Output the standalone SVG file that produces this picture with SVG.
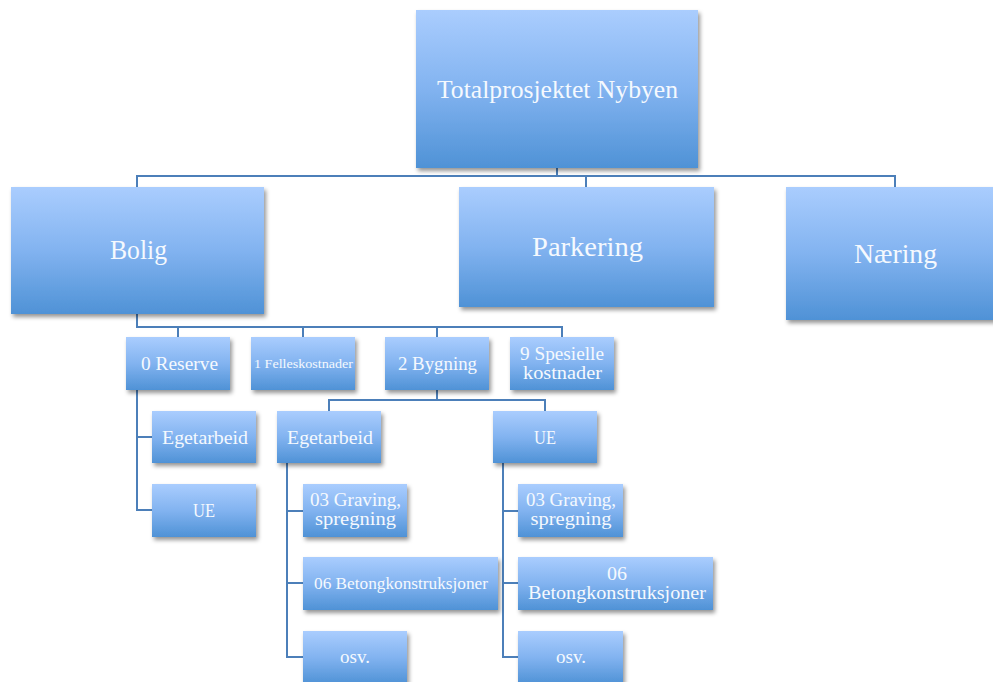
<svg xmlns="http://www.w3.org/2000/svg" width="993" height="682" viewBox="0 0 993 682">
  <defs>
    <linearGradient id="boxFill" x1="0" y1="0" x2="0" y2="1">
      <stop offset="0" stop-color="#aacdfe"/>
      <stop offset="0.5" stop-color="#82b3f0"/>
      <stop offset="1" stop-color="#4f92d6"/>
    </linearGradient>
    <filter id="shadow" x="-10%" y="-10%" width="130%" height="140%">
      <feDropShadow dx="2" dy="3" stdDeviation="2.2" flood-color="#000" flood-opacity="0.42"/>
    </filter>
  </defs>
  <style>
    .box { fill: url(#boxFill); filter: url(#shadow); }
    .lbl { fill: #f5f9fe; font-family: "Liberation Serif", "DejaVu Serif", serif; text-anchor: middle; }
    .conn { fill: none; stroke: #4c7fb9; stroke-width: 2; }
  </style>
  <rect width="993" height="682" fill="#ffffff"/>

  <g id="connectors" class="conn">
    <path d="M557,168 V176"/>
    <path d="M137,187 V176 H895 V187"/>
    <path d="M586,176 V187"/>
    <path d="M137,314 V327 H562 V337"/>
    <path d="M178,327 V337"/>
    <path d="M303,327 V337"/>
    <path d="M437,327 V337"/>
    <path d="M137,390 V510 H152"/>
    <path d="M137,437 H152"/>
    <path d="M437,390 V400"/>
    <path d="M329,411 V400 H545 V411"/>
    <path d="M287,463 V657 H303"/>
    <path d="M287,511 H303"/>
    <path d="M287,583 H303"/>
    <path d="M503,463 V657 H518"/>
    <path d="M503,511 H518"/>
    <path d="M503,583 H518"/>
  </g>

  <g id="totalprosjektet">
    <rect class="box" x="416" y="10" width="282" height="158"/>
    <text class="lbl" x="557.5" y="98" font-size="26" textLength="241" lengthAdjust="spacingAndGlyphs">Totalprosjektet Nybyen</text>
  </g>
  <g id="bolig">
    <rect class="box" x="11" y="187" width="253" height="127"/>
    <text class="lbl" x="138.5" y="259" font-size="27" textLength="57" lengthAdjust="spacingAndGlyphs">Bolig</text>
  </g>
  <g id="parkering">
    <rect class="box" x="459" y="187" width="255" height="120"/>
    <text class="lbl" x="587.5" y="256" font-size="27" textLength="111" lengthAdjust="spacingAndGlyphs">Parkering</text>
  </g>
  <g id="naering">
    <rect class="box" x="786" y="187" width="215" height="133"/>
    <text class="lbl" x="895.5" y="263" font-size="27" textLength="83" lengthAdjust="spacingAndGlyphs">Næring</text>
  </g>

  <g id="reserve">
    <rect class="box" x="126" y="337" width="104" height="53"/>
    <text class="lbl" x="179.5" y="370" font-size="19" textLength="77" lengthAdjust="spacingAndGlyphs">0 Reserve</text>
  </g>
  <g id="felleskostnader">
    <rect class="box" x="251" y="337" width="104" height="53"/>
    <text class="lbl" x="303.5" y="368" font-size="13" textLength="99" lengthAdjust="spacingAndGlyphs">1 Felleskostnader</text>
  </g>
  <g id="bygning">
    <rect class="box" x="385" y="337" width="104" height="53"/>
    <text class="lbl" x="437.5" y="370" font-size="19" textLength="79" lengthAdjust="spacingAndGlyphs">2 Bygning</text>
  </g>
  <g id="spesielle">
    <rect class="box" x="510" y="337" width="104" height="53"/>
    <text class="lbl" x="562" y="360" font-size="19" textLength="84" lengthAdjust="spacingAndGlyphs">9 Spesielle</text>
    <text class="lbl" x="562.5" y="379" font-size="19" textLength="79" lengthAdjust="spacingAndGlyphs">kostnader</text>
  </g>

  <g id="reserve-egetarbeid">
    <rect class="box" x="152" y="411" width="104" height="52"/>
    <text class="lbl" x="205" y="444" font-size="19" textLength="86" lengthAdjust="spacingAndGlyphs">Egetarbeid</text>
  </g>
  <g id="reserve-ue">
    <rect class="box" x="152" y="484" width="104" height="53"/>
    <text class="lbl" x="204" y="517" font-size="19" textLength="22" lengthAdjust="spacingAndGlyphs">UE</text>
  </g>

  <g id="bygning-egetarbeid">
    <rect class="box" x="277" y="411" width="104" height="52"/>
    <text class="lbl" x="330" y="444" font-size="19" textLength="86" lengthAdjust="spacingAndGlyphs">Egetarbeid</text>
  </g>
  <g id="bygning-ue">
    <rect class="box" x="493" y="411" width="104" height="52"/>
    <text class="lbl" x="545" y="444" font-size="19" textLength="22" lengthAdjust="spacingAndGlyphs">UE</text>
  </g>

  <g id="ege-graving">
    <rect class="box" x="303" y="484" width="104" height="53"/>
    <text class="lbl" x="355.5" y="506" font-size="18" textLength="91" lengthAdjust="spacingAndGlyphs">03 Graving,</text>
    <text class="lbl" x="355.5" y="525" font-size="18" textLength="81" lengthAdjust="spacingAndGlyphs">spregning</text>
  </g>
  <g id="ege-betong">
    <rect class="box" x="303" y="557" width="195" height="53"/>
    <text class="lbl" x="401" y="589" font-size="16" textLength="174" lengthAdjust="spacingAndGlyphs">06 Betongkonstruksjoner</text>
  </g>
  <g id="ege-osv">
    <rect class="box" x="303" y="631" width="104" height="53"/>
    <text class="lbl" x="355" y="663" font-size="19" textLength="30" lengthAdjust="spacingAndGlyphs">osv.</text>
  </g>

  <g id="ue-graving">
    <rect class="box" x="518" y="484" width="105" height="53"/>
    <text class="lbl" x="571" y="506" font-size="18" textLength="90" lengthAdjust="spacingAndGlyphs">03 Graving,</text>
    <text class="lbl" x="571" y="525" font-size="18" textLength="81" lengthAdjust="spacingAndGlyphs">spregning</text>
  </g>
  <g id="ue-betong">
    <rect class="box" x="518" y="557" width="195" height="53"/>
    <text class="lbl" x="617" y="580" font-size="19" textLength="20" lengthAdjust="spacingAndGlyphs">06</text>
    <text class="lbl" x="617" y="599" font-size="19" textLength="178" lengthAdjust="spacingAndGlyphs">Betongkonstruksjoner</text>
  </g>
  <g id="ue-osv">
    <rect class="box" x="518" y="631" width="105" height="53"/>
    <text class="lbl" x="571" y="663" font-size="19" textLength="30" lengthAdjust="spacingAndGlyphs">osv.</text>
  </g>
</svg>
